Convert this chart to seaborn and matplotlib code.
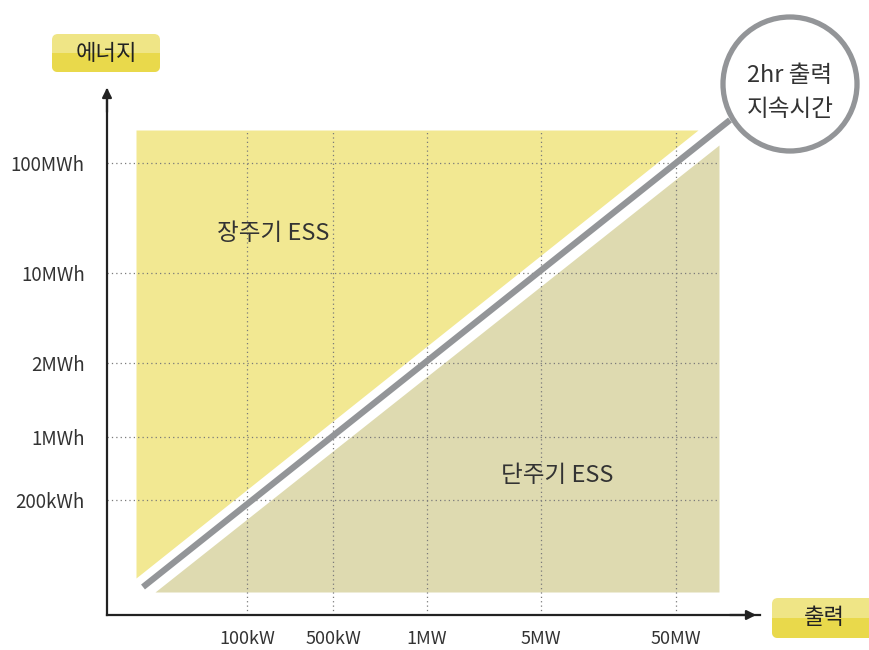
import matplotlib.pyplot as plt
import seaborn as sns
import numpy as np
from matplotlib.patches import FancyBboxPatch, Rectangle, Circle

# Data (schematic units: 1 unit = 1 px, origin at the axis corner)
x_labels = ['100kW', '500kW', '1MW', '5MW', '50MW']
x_ticks = [140, 226, 320, 434, 569]
y_labels = ['200kWh', '1MWh', '2MWh', '10MWh', '100MWh']
y_ticks = [115, 178, 252, 342, 452]

long_x = [29, 591]           # long-duration region (upper triangle)
long_y = [37, 485]
long_top = 485
short_x = [48, 612]          # short-duration region (lower triangle)
short_y = [23, 470]
short_bottom = 23
line_x = [36, 623]           # 2hr boundary
line_y = [28, 495]

sns.set_theme(style='white')
plt.rcParams['font.family'] = ['Noto Sans CJK KR', 'DejaVu Sans']
plt.rcParams['font.weight'] = 'light'

fig = plt.figure(figsize=(8.7, 6.5), dpi=100)
ax = fig.add_axes([107 / 870, 35 / 650, 653 / 870, 525 / 650])
ax.set_xlim(0, 653)
ax.set_ylim(0, 525)

yellow = '#F2E892'
khaki = '#DEDAB0'
gray = '#939598'
txt = '#333333'

# regions
xs = np.array(long_x, dtype=float)
ax.fill_between(xs, np.array(long_y, dtype=float), long_top, color=yellow, lw=0, zorder=1)
xs2 = np.array(short_x, dtype=float)
ax.fill_between(xs2, short_bottom, np.array(short_y, dtype=float), color=khaki, lw=0, zorder=1)

# dotted guides
ax.vlines(x_ticks, 0, long_top, colors='#7a7a7a', linestyles=(0, (1, 2.5)), lw=0.9, zorder=2)
ax.hlines(y_ticks, 0, short_x[1], colors='#7a7a7a', linestyles=(0, (1, 2.5)), lw=0.9, zorder=2)

# boundary line
sns.lineplot(x=line_x, y=line_y, ax=ax, color=gray, lw=4.5, zorder=3,
             solid_capstyle='butt')

# circle callout
circ = Circle((683, 531), 67, facecolor='white', edgecolor=gray, lw=3.8,
              zorder=5, clip_on=False)
ax.add_patch(circ)
ax.text(683, 540, '2hr 출력', ha='center', va='center', fontsize=17,
        color=txt, zorder=6, clip_on=False)
ax.text(683, 505, '지속시간', ha='center', va='center', fontsize=17,
        color=txt, zorder=6, clip_on=False)

# region labels
ax.text(166, 382, '장주기 ESS', ha='center', va='center', fontsize=17, color=txt, zorder=4)
ax.text(450, 140, '단주기 ESS', ha='center', va='center', fontsize=17, color=txt, zorder=4)

# axes / ticks
for s in ['top', 'right']:
    ax.spines[s].set_visible(False)
for s in ['left', 'bottom']:
    ax.spines[s].set_color('#222222')
    ax.spines[s].set_linewidth(1.6)
ax.set_xticks(x_ticks)
ax.set_xticklabels(x_labels)
ax.set_yticks(y_ticks)
ax.set_yticklabels(y_labels)
ax.tick_params(axis='x', length=0, pad=11, labelsize=13, labelcolor=txt)
ax.tick_params(axis='y', length=0, pad=16, labelsize=13.5, labelcolor=txt)

# arrow heads
ax.annotate('', xy=(0, 530), xytext=(0, 500),
            arrowprops=dict(arrowstyle='-|>', color='#222222', lw=1.6,
                            mutation_scale=14), annotation_clip=False)
ax.annotate('', xy=(652, 0), xytext=(620, 0),
            arrowprops=dict(arrowstyle='-|>', color='#222222', lw=1.6,
                            mutation_scale=14), annotation_clip=False)


def label_box(cx, cy, w, h, text):
    r = 6
    x0, y0 = cx - w / 2, cy - h / 2
    # light full rounded box, darker lower half on top of it
    ax.add_patch(FancyBboxPatch((x0, y0), w, h,
                                boxstyle=f'round,pad=0,rounding_size={r}',
                                facecolor='#EFE586', edgecolor='none',
                                zorder=6, clip_on=False))
    ax.add_patch(FancyBboxPatch((x0, y0), w, h / 2,
                                boxstyle=f'round,pad=0,rounding_size={r}',
                                facecolor='#E9D94B', edgecolor='none',
                                zorder=6, clip_on=False))
    ax.add_patch(Rectangle((x0, y0 + r), w, h / 2 - r,
                           facecolor='#E9D94B', edgecolor='none',
                           zorder=6, clip_on=False))
    ax.text(cx, cy, text, ha='center', va='center', fontsize=16,
            color='#222222', zorder=7, clip_on=False)


label_box(-1, 562, 108, 38, '에너지')
label_box(717, -3, 104, 40, '출력')

fig.savefig('out.png', dpi=100)
